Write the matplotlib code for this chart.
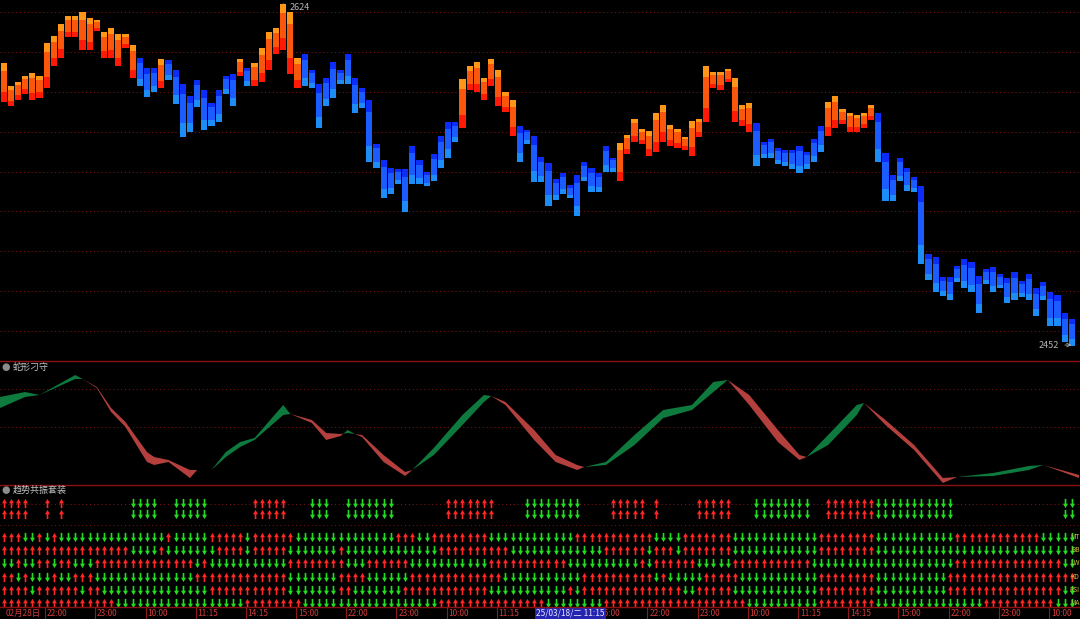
import numpy as np
import matplotlib.pyplot as plt
from matplotlib.path import Path
from matplotlib.lines import Line2D
from matplotlib.transforms import blended_transform_factory

plt.rcParams['font.family'] = ['Noto Sans CJK SC', 'DejaVu Sans']

# main panel: bar high / low and trend (1 = up, orange; 0 = down, blue)
highs = [2594.5, 2583, 2585, 2588, 2589.5, 2588, 2604.5, 2608, 2614, 2618,
         2618, 2620, 2617, 2616, 2610, 2612, 2609, 2609, 2603.5, 2597,
         2592, 2592, 2596.5, 2596, 2591, 2584, 2578, 2586, 2581, 2574.5,
         2581, 2588, 2589, 2596.5, 2592, 2594.5, 2602, 2610, 2612, 2624,
         2620, 2597, 2599, 2591, 2584, 2587, 2595, 2591, 2599, 2587,
         2582, 2576, 2554, 2546, 2542, 2541.5, 2541.5, 2553, 2546, 2540,
         2549, 2558, 2565, 2565, 2586.5, 2593, 2595, 2587, 2596.5, 2591,
         2580, 2576, 2563, 2561, 2558, 2547.5, 2544.5, 2536.5, 2539.5, 2533,
         2538.5, 2545, 2542, 2539.5, 2553, 2547, 2554.5, 2558.5, 2566.5, 2561.5,
         2560.5, 2569.5, 2573.5, 2563.5, 2561.5, 2557.5, 2565.5, 2566.5, 2593, 2590,
         2590, 2591.5, 2587, 2573.5, 2574.5, 2564.5, 2555, 2556.5, 2552, 2551,
         2551, 2553, 2550, 2556.5, 2563, 2575, 2578, 2571.5, 2569.5, 2568.5,
         2569.5, 2573.5, 2569.5, 2549.5, 2538.5, 2547, 2542, 2537.5, 2532.5, 2498.5,
         2497, 2487, 2487, 2492.5, 2496, 2494.5, 2487.5, 2491, 2492, 2488.5,
         2486.5, 2489.5, 2485, 2488.5, 2481.5, 2484.5, 2479.5, 2478, 2469, 2466]
lows = [2575, 2573, 2576, 2579, 2576, 2577, 2582, 2593, 2597, 2607.5,
        2607.5, 2601, 2601, 2610.5, 2597, 2597, 2593, 2602, 2587, 2583,
        2577.5, 2580, 2582, 2586, 2574, 2557.5, 2560, 2572.5, 2561, 2563,
        2565, 2579, 2573, 2588, 2583, 2583, 2585, 2591, 2599, 2601,
        2589, 2582, 2583, 2582, 2562, 2573, 2577, 2584, 2584, 2569.5,
        2572, 2545, 2542, 2526.5, 2528.5, 2533.5, 2519.5, 2533.5, 2533.5, 2532.5,
        2535, 2542, 2547, 2555, 2562, 2581, 2580, 2576, 2583, 2573,
        2570, 2558, 2545, 2554, 2534.5, 2534.5, 2522.5, 2525.5, 2528.5, 2526.5,
        2517.5, 2535, 2529.5, 2529.5, 2540, 2540, 2535, 2549, 2555, 2554,
        2548, 2550, 2555, 2553, 2552, 2551, 2548, 2557.5, 2565, 2582,
        2581, 2585, 2565, 2563, 2560, 2543, 2547, 2547, 2544, 2543,
        2541.5, 2539.5, 2541.5, 2545, 2550, 2558, 2562, 2564, 2560, 2560,
        2562, 2566, 2545, 2525, 2525, 2535, 2530, 2529.5, 2493.5, 2485.5,
        2479.5, 2477.5, 2475.5, 2484.5, 2481.5, 2479.5, 2469, 2483.5, 2479.5, 2481.5,
        2474, 2475.5, 2477, 2475.5, 2467.5, 2475.5, 2462.5, 2462.5, 2454.5, 2452.5]
trend = [1, 1, 1, 1, 1, 1, 1, 1, 1, 1,
         1, 1, 1, 1, 1, 1, 1, 1, 1, 0,
         0, 0, 1, 0, 0, 0, 0, 0, 0, 0,
         0, 0, 0, 1, 0, 1, 1, 1, 1, 1,
         1, 1, 0, 0, 0, 0, 0, 0, 0, 0,
         0, 0, 0, 0, 0, 0, 0, 0, 0, 0,
         0, 0, 0, 0, 1, 1, 1, 1, 1, 1,
         1, 1, 0, 0, 0, 0, 0, 0, 0, 0,
         0, 0, 0, 0, 0, 0, 1, 1, 1, 1,
         1, 1, 1, 1, 1, 1, 1, 1, 1, 1,
         1, 1, 1, 1, 1, 0, 0, 0, 0, 0,
         0, 0, 0, 0, 0, 1, 1, 1, 1, 1,
         1, 1, 0, 0, 0, 0, 0, 0, 0, 0,
         0, 0, 0, 0, 0, 0, 0, 0, 0, 0,
         0, 0, 0, 0, 0, 0, 0, 0, 0, 0]

# 蛇形刁守: fast / slow lines
snake_x = [-0.5, 3, 5, 10, 11, 13, 15, 17, 20, 21, 23, 26, 27, 29, 31, 33, 35, 39, 40, 43,
           45, 47, 48, 49, 50, 53, 56, 57, 60, 64, 67, 68, 70, 74, 77, 80, 81, 84, 88, 92,
           96, 99, 101, 104, 108, 111, 112, 115, 119, 120, 123, 127, 131, 133, 138, 143, 145, 150]
snake_fast = [88, 93, 90, 110, 106, 97, 73, 58, 23, 20, 23, 7, 15, 15, 33, 43, 47, 80, 71, 62,
              45, 49, 55, 51, 48, 23, 9, 15, 37, 70, 90, 89, 80, 45, 23, 15, 18, 23, 50, 75,
              80, 103, 105, 80, 43, 25, 28, 50, 80, 82, 60, 35, 2, 8, 12, 19, 20, 7]
snake_slow = [77, 88, 90, 106, 106, 98, 77, 63, 33, 28, 25, 15, 15, 15, 28, 38, 45, 70, 71, 65,
              52, 51, 52, 51, 50, 30, 13, 15, 30, 60, 83, 89, 83, 55, 30, 20, 18, 20, 40, 67,
              75, 93, 105, 90, 55, 30, 28, 40, 70, 82, 65, 40, 7, 8, 9, 15, 20, 10]

# 趋势共振套装: u = up arrow, d = down arrow, blank = nothing
signal = ("uuuu  u u " "        dd" "dd  ddddd " "     uuuuu" "   ddd  dd"
          "ddddd     " "  uuuuuuu " "   ddddddd" "d    uuuuu" " u     uuu"
          "uu   ddddd" "ddd  uuuuu" "uudddddddd" "ddd       " "        dd")
row_mt = ("uuuddududd" "dddddddddd" "dddudddddu" "uuuuduuuuu" "uddddddddd"
          "ddddduuudd" "uuuuuuuudd" "dddddddddd" "uuuuuuuuuu" "udddduuuuu"
          "uudddddddd" "dddduuuuuu" "uudddddddd" "ddduuuuuuu" "uuuuuddddd")
row_bb = ("uuuuuuuuuu" "uuuuuuuudd" "dduddddddd" "uuuuduuuuu" "dddddddudd"
          "dddddddddd" "duuuuuuuuu" "uddddddddd" "dddduuuuuu" "duuuduuuuu"
          "uudddddddd" "dddduuuuuu" "uudddddddd" "dddddddddd" "dddddddddd")
row_lw = ("ddudduuduu" "ddduuuuuuu" "uuuuuuudud" "dddddddddd" "uuuuuuuudd"
          "duuuuuuddd" "dddddddduu" "uuuuuuuuud" "dddddddddu" "duuuuuuddd"
          "dduuuuuuuu" "uuuddddddd" "dddddddddd" "ddduuuuuuu" "uuuuuuuudd")
row_kd = ("uududddudd" "uuuddddddd" "ddddddduuu" "uuuuuuuuuu" "ddddddduuu"
          "udddddduuu" "uuuuuuuuuu" "dddddddddd" "duuuuuuuuu" "ududdddduu"
          "uuuddddddd" "dddduuuuuu" "uudddddddd" "dduuuuuuuu" "uuuuuuuuuu")
row_rsi = ("uuuuduuuuu" "uduudddddd" "dddddddddu" "uuuuuuuuuu" "ddddddduud"
           "dddddduuuu" "uuuuuuuudd" "dddddddddu" "duuuuuuuuu" "uuuuudduuu"
           "uudddddddd" "dddduuuuuu" "uudddddddd" "dduuuuuuuu" "uuuuuuuudd")
row_ma = ("uuuuuuuuuu" "uuuuuudddd" "dddddddddd" "dddduuuuuu" "uudddddddd"
          "dddddddddd" "duuuuuuuuu" "uuuuuudddd" "dddduuuuuu" "uuuuuuuuuu"
          "uuuudddddd" "dddduuuuuu" "uudddddddd" "ddddddduuu" "uuuuuuuddd")
row_names = ['MT', 'BB', 'LW', 'KD', 'RSI', 'MA']

first_label = '02月28日'
tick_labels = ['22:00', '23:00', '10:00', '11:15', '14:15', '15:00', '22:00', '23:00',
               '10:00', '11:15', '14:15', '15:00', '22:00', '23:00', '10:00', '11:15',
               '14:15', '15:00', '22:00', '23:00', '10:00']
cursor_label = '25/03/18/二 11:15'
cursor_bar = 79.1

# ---------------------------------------------------------------------
H = 619.0
fig = plt.figure(figsize=(10.8, 6.19), dpi=100, facecolor='black')


def rect(top, bottom):
    return [0, 1 - bottom / H, 1, (bottom - top) / H]


ax1 = fig.add_axes(rect(0, 360))
ax2 = fig.add_axes(rect(361, 485))
ax3 = fig.add_axes(rect(486, 607))
for ax in (ax1, ax2, ax3):
    ax.set_facecolor('black')
    ax.set_xlim(-0.5, 150.13)
    for s in ax.spines.values():
        s.set_visible(False)
    ax.set_yticks([])
ax1.set_xticks([])
ax2.set_xticks([])

grid_kw = dict(color='#701414', ls=(0, (1, 2.5)), lw=0.8, zorder=0)

# main panel
x = np.arange(len(highs))
h = np.array(highs)
l = np.array(lows)
up = np.array(trend) == 1
span = h - l
ax1.bar(x, span * 0.25, bottom=l, width=0.86, lw=0,
        color=np.where(up, '#ff1a08', '#1c8cf6'))
ax1.bar(x, span * 0.55, bottom=l + span * 0.25, width=0.86, lw=0,
        color=np.where(up, '#fa560c', '#1a5cff'))
ax1.bar(x, span * 0.20, bottom=l + span * 0.80, width=0.86, lw=0,
        color=np.where(up, '#ff9618', '#0c2cf8'))
for p in range(2460, 2621, 20):
    ax1.axhline(p, **grid_kw)
ax1.set_ylim(2445.5, 2626)
imax = int(np.argmax(h))
imin = int(np.argmin(l))
ax1.annotate(f'{h[imax]:.0f}', xy=(imax, h[imax]), xytext=(imax + 0.9, h[imax] - 2),
             color='#b4b4b4', fontsize=6.5, va='center', ha='left',
             arrowprops=dict(arrowstyle='-', color='#b4b4b4', lw=0.6))
ax1.annotate(f'{l[imin]:.0f}', xy=(imin + 0.3, l[imin] + 0.5), xytext=(imin - 4.6, l[imin] + 0.5),
             color='#b4b4b4', fontsize=6.5, va='center', ha='left',
             arrowprops=dict(arrowstyle='->', color='#b4b4b4', lw=0.6))

# snake panel
sx = np.array(snake_x, dtype=float)
sf = np.array(snake_fast, dtype=float)
ss = np.array(snake_slow, dtype=float)
ax2.fill_between(sx, sf, ss, where=sf >= ss, interpolate=True, color='#0e7a3e', lw=0)
ax2.fill_between(sx, sf, ss, where=sf <= ss, interpolate=True, color='#b4403e', lw=0)
for v in (96, 58):
    ax2.axhline(v, **grid_kw)
ax2.set_ylim(0, 124)

# arrows panel
ax3.set_ylim(607, 486)
for yy in (503.5, 524.5):
    ax3.axhline(yy, **grid_kw)

arrow = Path([(-0.09, -0.5), (0.09, -0.5), (0.09, 0.02), (0.27, 0.02), (0, 0.5),
              (-0.27, 0.02), (-0.09, 0.02), (-0.09, -0.5)],
             [Path.MOVETO] + [Path.LINETO] * 6 + [Path.CLOSEPOLY])
arrow_dn = Path(arrow.vertices * [1, -1], arrow.codes)


def draw_row(states, yy):
    st = list(states)
    xs = np.arange(len(st))
    ups = xs[[c == 'u' for c in st]]
    dns = xs[[c == 'd' for c in st]]
    ax3.scatter(ups, np.full(len(ups), yy), marker=arrow, s=44, color='#ff2626', lw=0)
    ax3.scatter(dns, np.full(len(dns), yy), marker=arrow_dn, s=44, color='#22dc22', lw=0)


draw_row(signal, 503.3)
draw_row(signal, 514.3)
row_y = [536.7, 550, 563.3, 576.7, 590, 603.3]
for states, yy, name in zip([row_mt, row_bb, row_lw, row_kd, row_rsi, row_ma], row_y, row_names):
    draw_row(states, yy)
    fig.text(1079.5 / 1080, 1 - yy / H, name, color='#c8c040', fontsize=4.8,
             va='center', ha='right', zorder=5)

# x axis labels
tick_pos = np.arange(len(tick_labels)) * 7 + 5.8
ax3.set_xticks(tick_pos)
ax3.tick_params(axis='x', length=9, width=0.8, color='#8b1a1a', direction='out', labelbottom=False)
tb = blended_transform_factory(ax3.transData, fig.transFigure)
ax3.text(0.3, 1 - 613 / H, first_label, transform=tb, color='#d03a3a', fontsize=6, va='center', ha='left')
for p, lab in zip(tick_pos, tick_labels):
    if abs(p + 2 - cursor_bar) < 4:
        continue  # fully hidden behind the cursor label
    ax3.text(p + 0.25, 1 - 613 / H, lab, transform=tb, color='#d03a3a', fontsize=6, va='center', ha='left')
ax3.text(cursor_bar, 1 - 613 / H, cursor_label, transform=tb, color='#e8e8ff', fontsize=6,
         va='center', ha='center', zorder=10,
         bbox=dict(boxstyle='square,pad=0.15', fc='#2424b0', ec='none'))

# panel titles
for yy, title in ((367, '蛇形刁守'), (490, '趋势共振套装')):
    fig.text(6 / 1080, 1 - yy / H, '●', color='#8c8c8c', fontsize=7, va='center', ha='center',
             family='DejaVu Sans')
    fig.text(13 / 1080, 1 - yy / H, title, color='#c4c4c4', fontsize=6.5, va='center', ha='left')

# panel separators
for yy in (360.5, 485, 607):
    fig.add_artist(Line2D([0, 1], [1 - yy / H, 1 - yy / H], transform=fig.transFigure,
                          color='#8b1212', lw=1))

fig.savefig('out.png', dpi=100, facecolor='black')
